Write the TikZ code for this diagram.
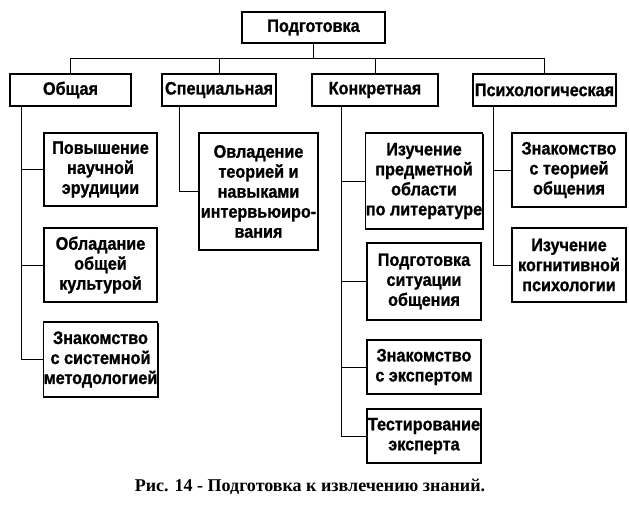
\documentclass[tikz,border=0pt]{standalone}
\usepackage{fontspec}
\setmainfont{Liberation Sans}
\newfontfamily\boxfont[FakeStretch=0.9,FakeBold=1]{Liberation Sans}
\newfontfamily\captionfont{Liberation Serif}
\usetikzlibrary{shadows}
\tikzset{
  itembox/.style={draw=black,line width=0.8pt,fill=white,align=center,
    font=\boxfont\fontsize{13.5}{15}\selectfont\bfseries,inner sep=0pt,
    drop shadow={shadow xshift=1.1pt,shadow yshift=-1.1pt,fill=black,opacity=1}},
  boxsize/.style 2 args={minimum width=#1*0.75pt,minimum height=#2*0.75pt},
  treeline/.style={draw=black,line width=0.6pt},
  captiontext/.style={font=\captionfont\fontsize{13.5}{15}\selectfont\bfseries}
}
\begin{document}
\begin{tikzpicture}[x=0.75pt,y=-0.75pt]
  \useasboundingbox (0,0) rectangle (629,521);
  \node[itembox,boxsize={143}{31}] (root) at (313.5,27.5) {Подготовка};
  \node[itembox,boxsize={121}{32}] (obsh) at (70.5,90) {Общая};
  \node[itembox,boxsize={114}{32}] (spec) at (219,90) {Специальная};
  \node[itembox,boxsize={126}{32}] (konk) at (375,90) {Конкретная};
  \node[itembox,boxsize={143}{32}] (psych) at (544.5,90) {Психологическая};
  \node[itembox,boxsize={113}{73}] (o1) at (100.5,169.5) {Повышение\\научной\\эрудиции};
  \node[itembox,boxsize={113}{74}] (o2) at (100.5,265) {Обладание\\общей\\культурой};
  \node[itembox,boxsize={113}{75}] (o3) at (100.5,359.5) {Знакомство\\с системной\\методологией};
  \node[itembox,boxsize={119}{117}] (s1) at (258.5,191.5) {Овладение\\теорией и\\навыками\\интервьюиро-\\вания};
  \node[itembox,boxsize={114}{96}] (k1) at (424,181) {Изучение\\предметной\\области\\по литературе};
  \node[itembox,boxsize={114}{77}] (k2) at (424,281.5) {Подготовка\\ситуации\\общения};
  \node[itembox,boxsize={114}{54}] (k3) at (424,367) {Знакомство\\с экспертом};
  \node[itembox,boxsize={114}{54}] (k4) at (424,436) {Тестирование\\эксперта};
  \node[itembox,boxsize={114}{74}] (p1) at (569,170) {Знакомство\\с теорией\\общения};
  \node[itembox,boxsize={114}{74}] (p2) at (569,265) {Изучение\\когнитивной\\психологии};
  \coordinate (bus) at (0,58);
  \coordinate (ot) at (21,106);
  \coordinate (st) at (179,106);
  \coordinate (kt) at (341,106);
  \coordinate (pt) at (493,106);
  \draw[treeline] (root.south) -- (root.south |- bus);
  \draw[treeline] (obsh.north) -- (obsh.north |- bus) -- (psych.north |- bus) -- (psych.north);
  \draw[treeline] (spec.north) -- (spec.north |- bus);
  \draw[treeline] (konk.north) -- (konk.north |- bus);
  \foreach \c in {o1,o2,o3}
    \draw[treeline] (ot) |- (\c.west);
  \draw[treeline] (st) |- (s1.west);
  \foreach \c in {k1,k2,k3,k4}
    \draw[treeline] (kt) |- (\c.west);
  \foreach \c in {p1,p2}
    \draw[treeline] (pt) |- (\c.west);
  \node[captiontext] (cap) at (310,487) {Рис. 14 - Подготовка к извлечению знаний.};
\end{tikzpicture}
\end{document}
